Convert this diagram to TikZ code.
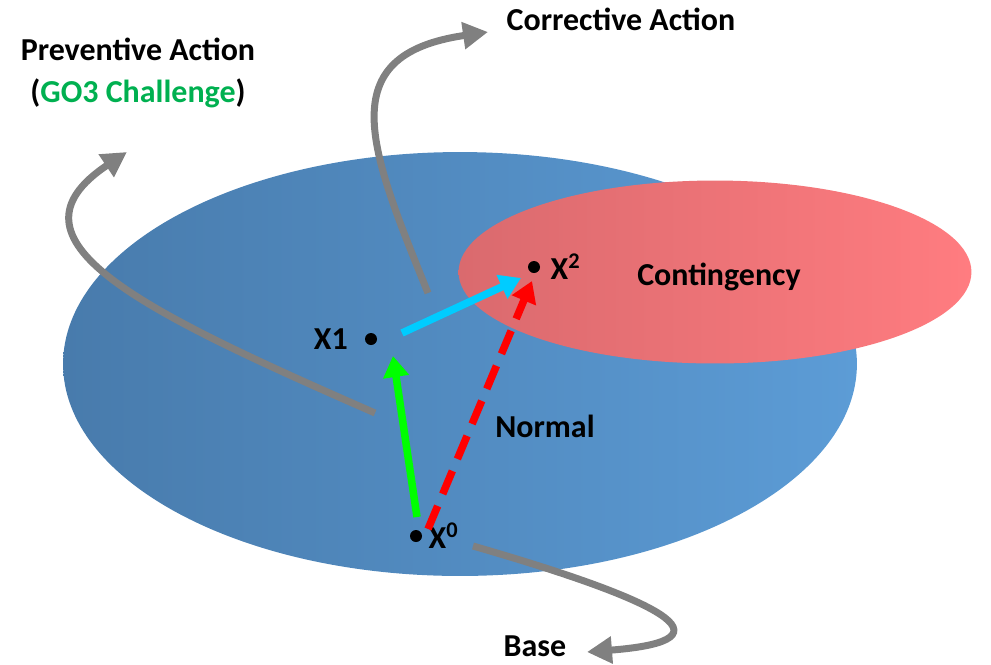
\documentclass[tikz,border=0pt]{standalone}
\usepackage{fontspec}
\setmainfont{Carlito}
\usetikzlibrary{arrows.meta, positioning, calc}

\definecolor{normalL}{RGB}{72,123,172}
\definecolor{normalR}{RGB}{92,156,214}
\definecolor{contL}{RGB}{218,106,110}
\definecolor{contR}{RGB}{255,124,128}
\definecolor{goGreen}{RGB}{0,176,80}
\definecolor{stepGreen}{RGB}{0,255,0}
\definecolor{stepCyan}{RGB}{0,204,255}
\definecolor{arcGray}{RGB}{128,128,128}

\begin{document}
\begin{tikzpicture}[x=0.02cm, y=-0.02cm,
    font=\bfseries\fontsize{18.2}{22}\selectfont,
    dot/.style={circle, fill=black, inner sep=0pt, minimum size=0.24cm},
    lbl/.style={inner sep=0pt},
    move/.style={line width=0.15cm, -{Triangle[length=0.42cm, width=0.5cm]}},
    sweep/.style={arcGray, line width=0.14cm, -{Triangle[length=0.5cm, width=0.52cm]}}]
    \useasboundingbox (0,0) rectangle (991,664);

    % regions
    \shade[left color=normalL, right color=normalR] (460,364) ellipse [x radius=7.94cm, y radius=4.24cm];
    \shade[left color=contL, right color=contR] (715,272) ellipse [x radius=5.13cm, y radius=1.83cm];
    \node[lbl] (normal) at (545,426) {Normal};
    \node[lbl] (cont) at (719,277) {Contingency};

    % operating points
    \node[dot] (x0) at (416,536) {};
    \node[dot] (x1) at (371,339) {};
    \node[dot] (x2) at (534,267) {};
    \node[lbl, left=0.33cm of x1] (x1lbl) {X1};
    \node[lbl, right=0.2cm of x2] (x2lbl) {X\textsuperscript{2}};
    \node[lbl, right=0.12cm of x0] (x0lbl) {X\textsuperscript{0}};

    % arrow ends
    \coordinate (gTail) at (417,517);
    \coordinate (gTip) at (393,356);
    \coordinate (cTail) at (402,333);
    \coordinate (cTip) at (521,278);
    \coordinate (rTail) at (428,529);
    \coordinate (rTip) at (532,281);
    \draw[move, stepGreen] (gTail) -- (gTip);
    \draw[move, stepCyan] (cTail) -- (cTip);
    \draw[move, red, dash pattern=on 0.5cm off 0.26cm] (rTail) -- (rTip);

    % actions
    \node[lbl, align=center] (prev) at (138,73) {Preventive Action\\[2pt](\textcolor{goGreen}{GO3 Challenge})};
    \node[lbl] (corr) at (621,19) {Corrective Action};
    \node[lbl] (base) at (535,646) {Base};

    \coordinate (pStart) at (375,413);
    \coordinate (pEnd) at (127,152);
    \coordinate (cStart) at (428,293);
    \coordinate (cEnd) at (488,32);
    \coordinate (bStart) at (473,546);
    \coordinate (bEnd) at (587,652);
    \draw[sweep] (pStart) .. controls (140,310) and (-5,240) .. (pEnd);
    \draw[sweep] (cStart) .. controls (370,150) and (330,55) .. (cEnd);
    \draw[sweep] (bStart) .. controls (660,600) and (740,640) .. (bEnd);
\end{tikzpicture}
\end{document}
